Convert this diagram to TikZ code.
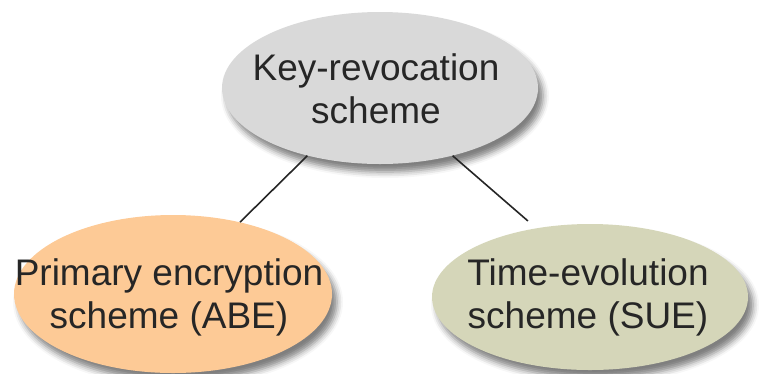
\documentclass[tikz,border=0pt]{standalone}
\usepackage{fontspec}
\setmainfont{Liberation Sans}
\usetikzlibrary{shapes.geometric,shadows.blur}
\definecolor{topgray}{HTML}{D9D9D9}
\definecolor{orangefill}{HTML}{FDCA96}
\definecolor{khaki}{HTML}{D5D6B9}
\definecolor{txt}{HTML}{262626}
\begin{document}
\begin{tikzpicture}[x=1pt,y=-1pt,
  blob/.style={ellipse, inner sep=0pt, draw=none,
    blur shadow={shadow xshift=5pt, shadow yshift=-8pt, shadow blur radius=6pt, shadow opacity=50}},
  label/.style={align=center, text=txt, font=\fontsize{37}{43}\selectfont, inner sep=0pt},
  link/.style={draw=black!85, line width=1.6pt}]
\useasboundingbox (0,0) rectangle (759,373);
\node[blob, fill=topgray, minimum width=316pt, minimum height=152pt] (top) at (380,88) {};
\node[blob, fill=orangefill, minimum width=318pt, minimum height=158pt] (left) at (173,294) {};
\node[blob, fill=khaki, minimum width=316pt, minimum height=146pt] (right) at (590,297) {};
\node[label] (toptext) at (376,89) {Key-revocation\\scheme};
\node[label] (lefttext) at (169,297) {Primary encryption\\scheme (ABE)};
\node[label] (righttext) at (588,297) {Time-evolution\\scheme (SUE)};
\draw[link] (top.-137) -- (left.47);
\draw[link, shorten >=11pt] (top.-43) -- (right.128);
\end{tikzpicture}
\end{document}
